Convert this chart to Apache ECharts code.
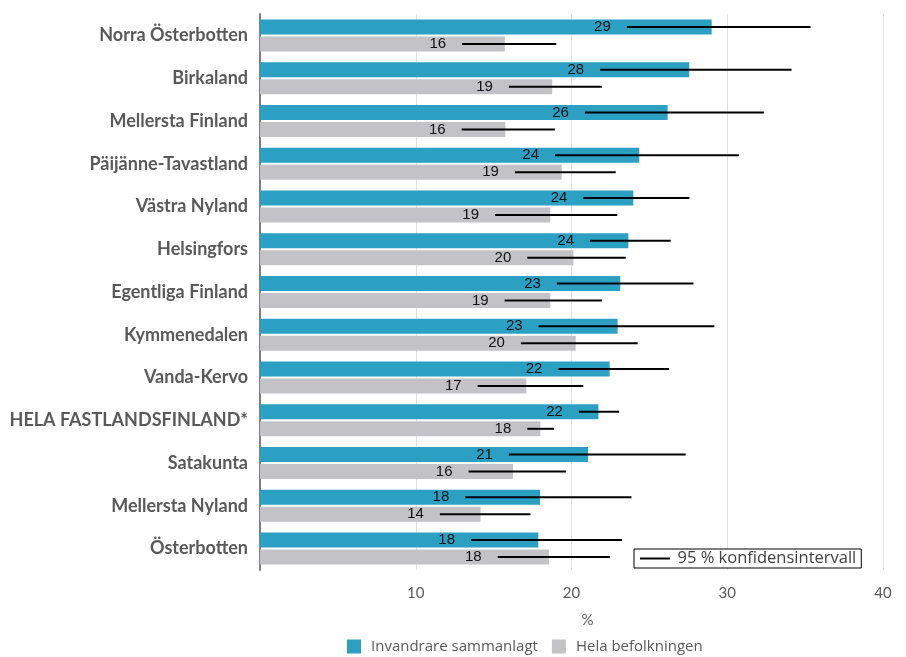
<!DOCTYPE html>
<html>
<head>
<meta charset="utf-8">
<script src="https://cdn.jsdelivr.net/npm/echarts@6/dist/echarts.min.js"></script>
<style>
html,body{margin:0;padding:0;background:#fff;}
#chart{width:906px;height:657px;}
</style>
</head>
<body>
<div id="chart"></div>
<script>
const categories = ['Norra Österbotten','Birkaland','Mellersta Finland','Päijänne-Tavastland','Västra Nyland','Helsingfors','Egentliga Finland','Kymmenedalen','Vanda-Kervo','HELA FASTLANDSFINLAND*','Satakunta','Mellersta Nyland','Österbotten'];
const immigrantValues = [29.0, 27.56, 26.17, 24.35, 23.97, 23.65, 23.13, 22.96, 22.45, 21.73, 21.06, 17.98, 17.87];
const immigrantLow    = [23.55, 21.84, 20.86, 18.94, 20.76, 21.19, 19.06, 17.89, 19.16, 20.47, 15.98, 13.18, 13.55];
const immigrantHigh   = [35.35, 34.13, 32.35, 30.75, 27.57, 26.37, 27.83, 29.17, 26.26, 23.06, 27.33, 23.85, 23.24];
const immigrantLabels = ['29','28','26','24','24','24','23','23','22','22','21','18','18'];
const populationValues = [15.72, 18.76, 15.75, 19.37, 18.64, 20.12, 18.64, 20.27, 17.1, 18.0, 16.24, 14.16, 18.55];
const populationLow    = [12.98, 15.98, 12.95, 16.37, 15.09, 17.16, 15.71, 16.75, 13.97, 17.16, 13.39, 11.55, 15.26];
const populationHigh   = [19.02, 21.95, 18.93, 22.84, 22.94, 23.48, 21.95, 24.25, 20.76, 18.87, 19.64, 17.37, 22.46];
const populationLabels = ['16','19','16','19','19','20','19','20','17','18','16','14','18'];
const xTicks = [0, 10, 20, 30, 40];

const seriesNames = ['Invandrare sammanlagt', 'Hela befolkningen'];
const ciName = '95 % konfidensintervall';

const chart = echarts.init(document.getElementById('chart'), null, {renderer: 'canvas'});

const ciData = categories.map((c, i) => [i, immigrantLow[i], immigrantHigh[i], populationLow[i], populationHigh[i]]);

const option = {
  animation: false,
  backgroundColor: '#fff',
  grid: {left: 260, top: 14, width: 623, height: 556, containLabel: false},
  legend: [
    {
      data: seriesNames,
      left: 347, top: 639,
      padding: 0,
      icon: 'rect',
      itemWidth: 14, itemHeight: 14, itemGap: 14,
      textStyle: {color: '#595959', fontSize: 15, fontFamily: 'Open Sans', padding: [0, 0, 0, 5]}
    },
    {
      data: [{name: ciName, icon: 'path://M0,0 L30,0 L30,2 L0,2 Z'}],
      left: 634, top: 549,
      padding: [1, 5, 1, 6],
      borderColor: '#000', borderWidth: 1,
      backgroundColor: '#fff',
      itemWidth: 31, itemHeight: 2,
      textStyle: {color: '#404040', fontSize: 16.5, fontFamily: 'Open Sans', padding: [0, 0, 0, 2]}
    }
  ],
  xAxis: {
    type: 'value',
    min: xTicks[0], max: xTicks[xTicks.length - 1], interval: 10,
    name: '%', nameLocation: 'middle', nameGap: 43,
    nameTextStyle: {color: '#595959', fontSize: 15, fontFamily: 'Lato', padding: [0, 0, 0, 32]},
    axisLine: {show: false},
    axisTick: {show: false},
    axisLabel: {showMinLabel: false, color: '#595959', fontSize: 15, fontFamily: 'Lato', margin: 16},
    splitLine: {show: true, lineStyle: {color: '#dde1e8', width: 1}}
  },
  yAxis: {
    type: 'category',
    data: categories,
    inverse: true,
    axisLine: {show: true, lineStyle: {color: '#7f7f7f', width: 2}},
    axisTick: {show: false},
    axisLabel: {color: '#595959', fontSize: 18, fontWeight: 'bold', fontFamily: 'Lato', margin: 12},
    splitLine: {show: false}
  },
  series: [
    {
      name: seriesNames[0], type: 'bar', data: immigrantValues,
      barWidth: 15, barGap: '13.3%',
      itemStyle: {color: '#2ba0c3'}
    },
    {
      name: seriesNames[1], type: 'bar', data: populationValues,
      barWidth: 15,
      itemStyle: {color: '#c3c2c7'}
    },
    {
      name: ciName, type: 'custom', z: 5,
      itemStyle: {color: '#000'},
      data: ciData,
      encode: {x: [1, 2, 3, 4], y: 0},
      renderItem: function (params, api) {
        const i = api.value(0);
        const specs = [
          [api.value(1), api.value(2), -8.5, immigrantLabels[i]],
          [api.value(3), api.value(4), 8.5, populationLabels[i]]
        ];
        const children = [];
        specs.forEach(s => {
          const p1 = api.coord([s[0], i]);
          const p2 = api.coord([s[1], i]);
          const y = p1[1] + s[2];
          children.push({
            type: 'line',
            shape: {x1: p1[0], y1: y, x2: p2[0], y2: y},
            style: {stroke: '#000', lineWidth: 2}
          });
          children.push({
            type: 'text',
            x: p1[0] - 16, y: y,
            style: {text: s[3], align: 'right', verticalAlign: 'middle', textAlign: 'right', textVerticalAlign: 'middle', fill: '#111', font: '15px "Liberation Sans", Arial, sans-serif'}
          });
        });
        return {type: 'group', children: children};
      }
    }
  ]
};
chart.setOption(option);
</script>
</body>
</html>
